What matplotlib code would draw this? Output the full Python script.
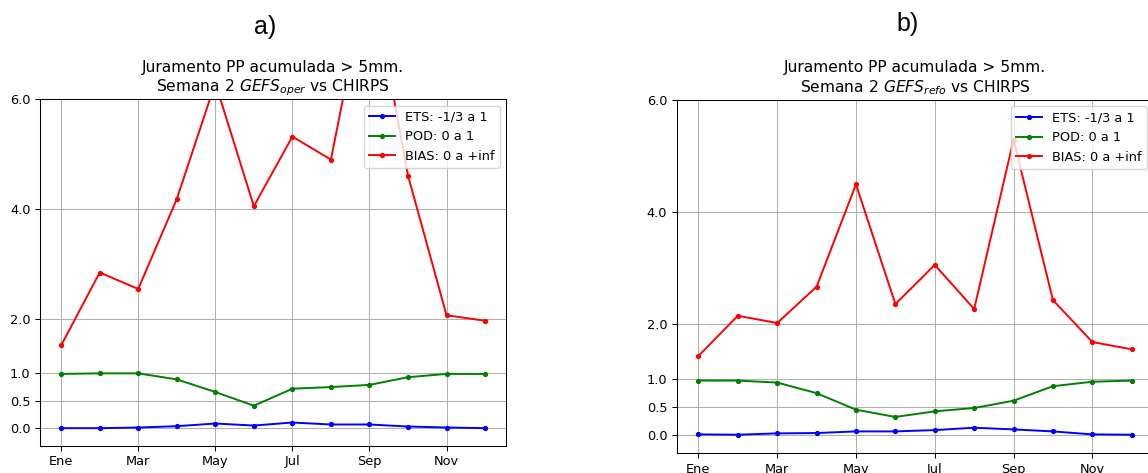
import matplotlib
matplotlib.use("Agg")
import matplotlib.pyplot as plt

meses = ["Ene", "Mar", "May", "Jul", "Sep", "Nov"]
x = list(range(12))

# panel a) GEFS oper
ets_oper = [0.0, 0.0, 0.012, 0.036, 0.085, 0.048, 0.103, 0.067, 0.067, 0.03, 0.012, 0.0]
pod_oper = [0.99, 1.0, 1.0, 0.89, 0.66, 0.41, 0.72, 0.75, 0.79, 0.93, 0.99, 0.99]
bias_oper = [1.51, 2.84, 2.54, 4.18, 6.3, 4.05, 5.32, 4.90, 8.45, 4.61, 2.06, 1.96]

# panel b) GEFS refo
ets_refo = [0.018, 0.012, 0.036, 0.042, 0.071, 0.071, 0.095, 0.137, 0.107, 0.071, 0.018, 0.012]
pod_refo = [0.98, 0.98, 0.945, 0.755, 0.46, 0.33, 0.43, 0.49, 0.62, 0.88, 0.96, 0.98]
bias_refo = [1.42, 2.14, 2.01, 2.66, 4.49, 2.35, 3.05, 2.26, 5.29, 2.42, 1.67, 1.54]

yticks = [0.0, 0.5, 1.0, 2.0, 4.0, 6.0]

# la figura original parece guardada a ~93% de escala
k = 0.93
plt.rcParams.update({
    'font.size': 10 * k,
    'lines.linewidth': 1.5 * k,
    'lines.markersize': 6 * k,
    'axes.linewidth': 0.8 * k,
    'grid.linewidth': 0.8 * k,
    'xtick.major.size': 3.5 * k,
    'ytick.major.size': 3.5 * k,
    'xtick.major.width': 0.8 * k,
    'ytick.major.width': 0.8 * k,
    'axes.titlepad': 6 * k,
})


def panel(ax, ets, pod, bias, sub):
    ax.plot(x, ets, '.-', color='blue', label='ETS: -1/3 a 1')
    ax.plot(x, pod, '.-', color='green', label='POD: 0 a 1')
    ax.plot(x, bias, '.-', color='red', label='BIAS: 0 a +inf')
    ax.set_ylim(-0.32, 6.0)
    ax.set_yticks(yticks)
    ax.set_yticklabels([f"{v:.1f}" for v in yticks])
    ax.set_xticks(x[::2])
    ax.set_xticklabels(meses)
    ax.grid(True)
    ax.legend(loc='upper right')
    ax.set_title("Juramento PP acumulada > 5mm.\nSemana 2 $GEFS_{" + sub + "}$ vs CHIRPS",
                 fontsize=12 * k)


fig = plt.figure(figsize=(11.48, 4.73), dpi=100)
ax1 = fig.add_axes([0.0348, 0.0577, 0.4062, 0.7323])
ax2 = fig.add_axes([0.5895, 0.0417, 0.4152, 0.7469])

panel(ax1, ets_oper, pod_oper, bias_oper, "oper")
panel(ax2, ets_refo, pod_refo, bias_refo, "refo")

fig.text(265 / 1148, 1 - 27 / 473, "a)", fontsize=18, ha='center', va='center',
         family=['Liberation Sans', 'DejaVu Sans'])
fig.text(908 / 1148, 1 - 24 / 473, "b)", fontsize=18, ha='center', va='center',
         family=['Liberation Sans', 'DejaVu Sans'])

fig.savefig("out.png", dpi=100)
